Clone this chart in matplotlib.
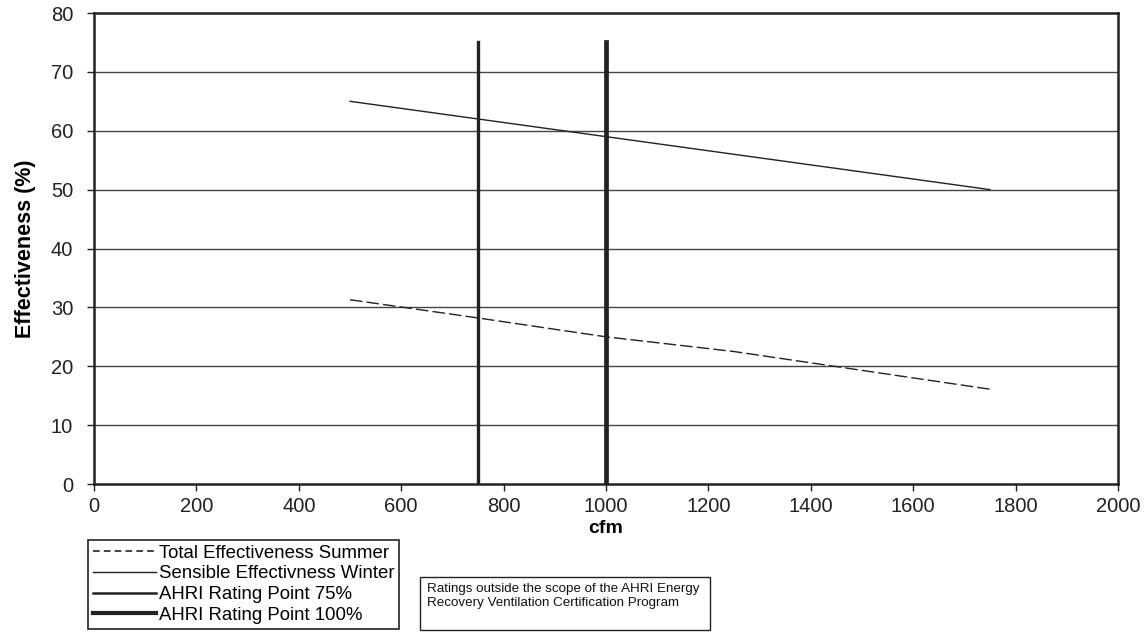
import matplotlib.pyplot as plt
from matplotlib.patches import Rectangle
from matplotlib.lines import Line2D

plt.rcParams['font.family'] = ['Liberation Sans', 'DejaVu Sans']

cfm = [500, 750, 1000, 1250, 1500, 1750]
total_summer = [31.3, 28.2, 25.0, 22.5, 19.3, 16.1]
sensible_winter = [65.0, 62.0, 59.0, 56.0, 53.0, 50.0]
rating_75 = 750
rating_100 = 1000
rating_top = 75

fig = plt.figure(figsize=(11.47, 6.35), dpi=100)
ax = fig.add_axes([94/1147, 1-484/635, 1024/1147, 471/635])

for yv in range(10, 80, 10):
    ax.axhline(yv, color='#444444', linewidth=1.0, zorder=1)

ax.plot(cfm, total_summer, color='#222222', linestyle=(0, (9, 3)), linewidth=1.0, zorder=3)
ax.plot(cfm, sensible_winter, color='#222222', linewidth=1.0, zorder=3)
ax.plot([rating_75, rating_75], [0, rating_top], color='#222222', linewidth=2.4, zorder=4)
ax.plot([rating_100, rating_100], [0, rating_top], color='#222222', linewidth=3.4, zorder=4)

ax.set_xlim(0, 2000)
ax.set_ylim(0, 80)
ax.set_xticks(range(0, 2001, 200))
ax.set_yticks(range(0, 81, 10))
ax.tick_params(labelsize=14.5, direction='out', length=5, width=1, colors='#222222')
ax.tick_params(axis='y', pad=10)
ax.tick_params(axis='x', pad=4)
for s in ax.spines.values():
    s.set_linewidth(1.8)
    s.set_color('#222222')
ax.set_xlabel('cfm', fontsize=14, fontweight='bold', labelpad=3)
ax.set_ylabel('Effectiveness (%)', fontsize=15.5, fontweight='bold', labelpad=11)

handles = [
    Line2D([], [], color='#222222', linestyle=(0, (4, 2.5)), linewidth=1.2),
    Line2D([], [], color='#222222', linewidth=1.0),
    Line2D([], [], color='#222222', linewidth=1.8),
    Line2D([], [], color='#222222', linewidth=3.0),
]
labels = ['Total Effectiveness Summer', 'Sensible Effectivness Winter',
          'AHRI Rating Point 75%', 'AHRI Rating Point 100%']
leg = fig.legend(handles, labels, loc='upper left', bbox_to_anchor=(88/1147, 1-540/635),
                 fontsize=13.4, frameon=True, fancybox=False, framealpha=1,
                 edgecolor='#222222', borderpad=0.25, labelspacing=0.2,
                 handlelength=3.4, handletextpad=0.15, borderaxespad=0)
leg.get_frame().set_linewidth(1.2)

fig.patches.append(Rectangle((420/1147, 1-630/635), 290/1147, 53/635,
                             transform=fig.transFigure, fill=False,
                             edgecolor='#222222', linewidth=1.0))
fig.text(427/1147, 1-583/635,
         'Ratings outside the scope of the AHRI Energy\nRecovery Ventilation Certification Program',
         fontsize=9.6, va='top', ha='left', color='#111111', linespacing=1.2)

fig.savefig('out.png', dpi=100)
